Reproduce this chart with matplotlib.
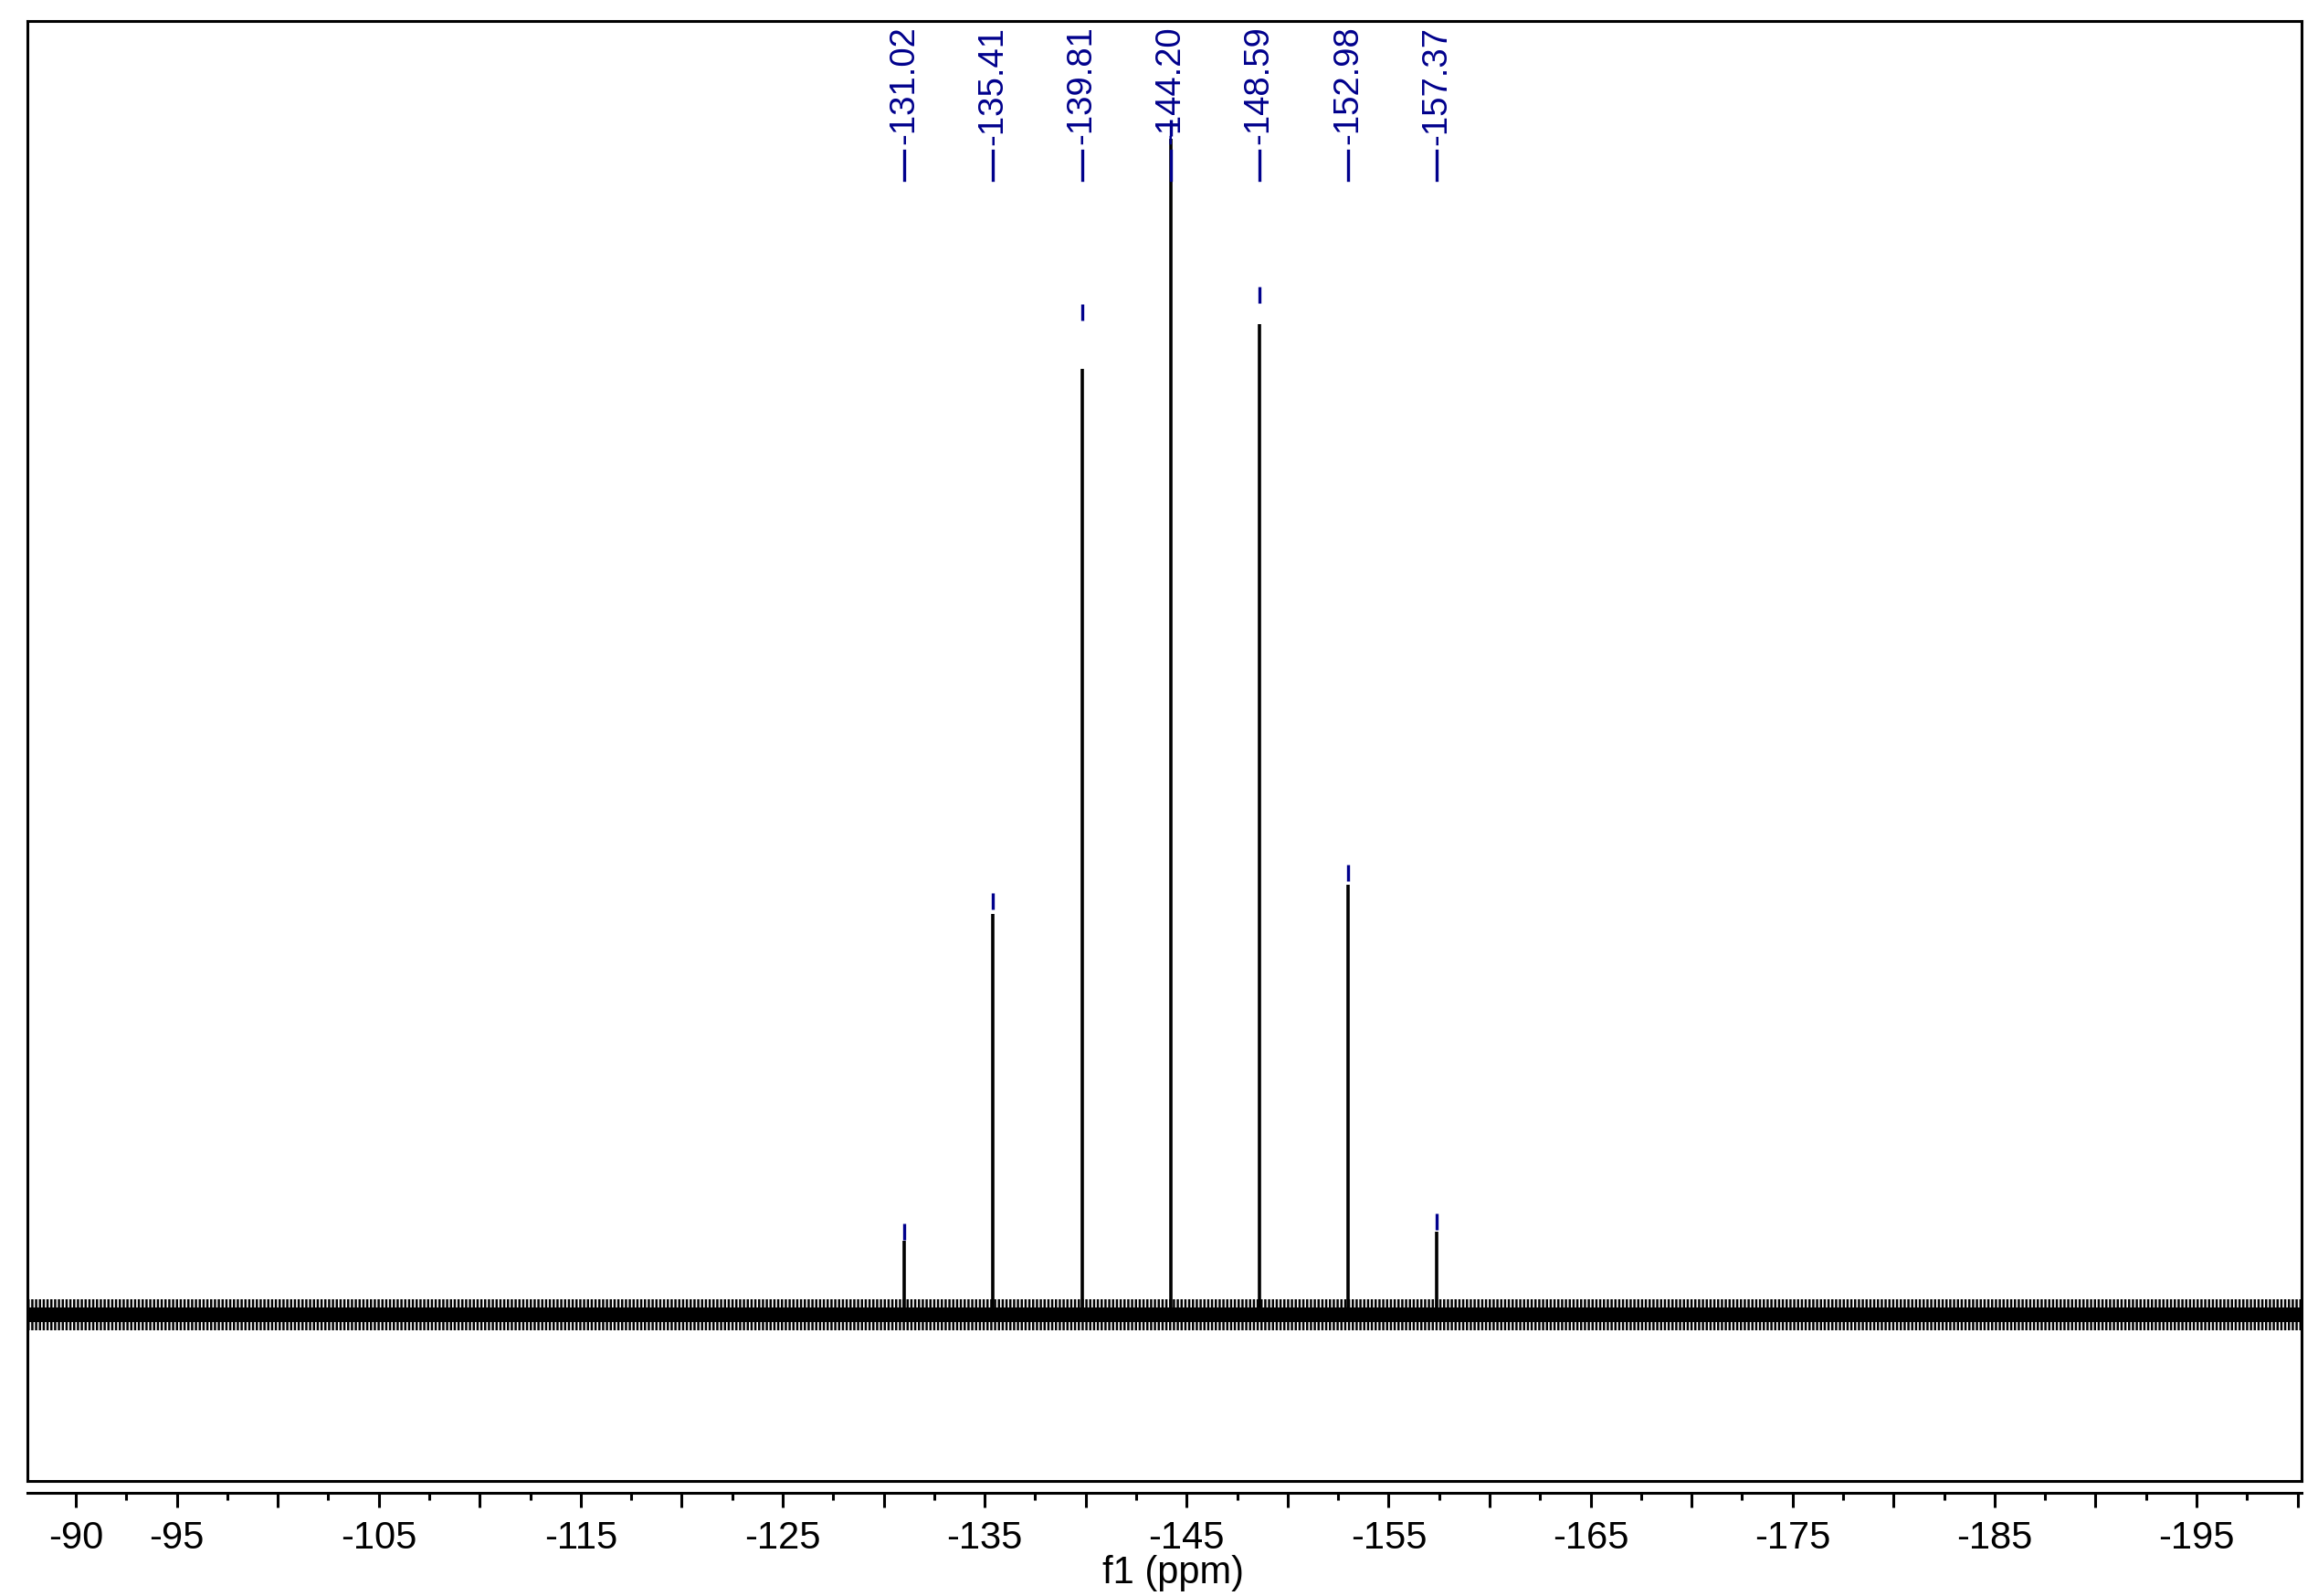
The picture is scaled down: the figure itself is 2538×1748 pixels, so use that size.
import numpy as np
import matplotlib
matplotlib.use('Agg')
import matplotlib.pyplot as plt
import matplotlib.transforms as mtransforms

# peak list (ppm) and drawn peak heights (tallest = 100)
shifts = [-131.02, -135.41, -139.81, -144.20, -148.59, -152.98, -157.37]
intensity = [6.3, 34.1, 80.4, 100.0, 84.2, 36.6, 7.1]
# top of the small blue pick marks above each peak
pick_marks = [7.8, 35.9, 85.9, 101.6, 87.4, 38.3, 8.6]
peak_labels = ['-131.02', '-135.41', '-139.81', '-144.20', '-148.59', '-152.98', '-157.37']

# baseline noise: dense core and outer spikes (half heights, same units)
noise_core = 0.65
noise_spikes = 1.3

# axis ticks
major_ticks = [-90, -95, -100, -105, -110, -115, -120, -125, -130, -135, -140, -145,
               -150, -155, -160, -165, -170, -175, -180, -185, -190, -195, -200]
labelled_ticks = [-90, -95, -105, -115, -125, -135, -145, -155, -165, -175, -185, -195]
minor_ticks = [-92.5, -97.5, -102.5, -107.5, -112.5, -117.5, -122.5, -127.5, -132.5,
               -137.5, -142.5, -147.5, -152.5, -157.5, -162.5, -167.5, -172.5, -177.5,
               -182.5, -187.5, -192.5, -197.5]

x_left, x_right = -87.6, -200.2
blue = '#00008C'
font = ['Liberation Sans', 'DejaVu Sans']

W, H = 2538, 1748
fig = plt.figure(figsize=(W / 100, H / 100), dpi=100)
plt.rcParams['hatch.linewidth'] = 1.8

# main box
left, right, top, bottom = 30, 2520, 23, 1622
ax = fig.add_axes([left / W, 1 - bottom / H, (right - left) / W, (bottom - top) / H])
ax.set_xlim(x_left, x_right)
ax.set_ylim(-14.13, 110.0)
ax.set_xticks([])
ax.set_yticks([])
for s in ax.spines.values():
    s.set_linewidth(2.2)

# noise band and peaks
ax.fill_between([x_left + 0.15, x_right - 0.05], -noise_spikes, noise_spikes,
                facecolor='none', edgecolor='black', hatch='||||', linewidth=0)
ax.fill_between([x_left + 0.15, x_right - 0.05], -noise_core, noise_core,
                color='black', linewidth=0)
ax.vlines(shifts, 0, intensity, color='black', linewidth=2.6)
ax.vlines(shifts, np.array(pick_marks) - 1.4, pick_marks, color=blue, linewidth=2.4)

# peak labels at the top
trans = mtransforms.blended_transform_factory(ax.transData, ax.transAxes)
for x, lab in zip(shifts, peak_labels):
    ax.text(x, 0.9965, lab, transform=trans, rotation=90, ha='center', va='top',
            color=blue, fontsize=27.5, family=font)
    ax.plot([x, x], [0.8912, 0.9112], transform=trans, color=blue, linewidth=2.4)

# separate x axis line below the box
axis_y = 1635
ax2 = fig.add_axes([left / W, 1 - axis_y / H, (right - left) / W, 1e-5])
ax2.set_xlim(x_left, x_right)
ax2.set_yticks([])
for side in ['top', 'left', 'right']:
    ax2.spines[side].set_visible(False)
ax2.spines['bottom'].set_linewidth(2.2)
ax2.patch.set_alpha(0)
ax2.set_xticks(major_ticks)
ax2.set_xticklabels([str(t) if t in labelled_ticks else '' for t in major_ticks])
ax2.set_xticks(minor_ticks, minor=True)
ax2.tick_params(axis='x', which='major', direction='out', length=11.5, width=2.2, pad=10)
ax2.tick_params(axis='x', which='minor', direction='out', length=5.8, width=2.2)
for t in ax2.get_xticklabels():
    t.set_family(font)
    t.set_fontsize(30)

fig.text(0.506, 1 - 1734 / H, 'f1 (ppm)', ha='center', va='baseline',
         fontsize=30, family=font)

fig.savefig('out.png', dpi=100)
